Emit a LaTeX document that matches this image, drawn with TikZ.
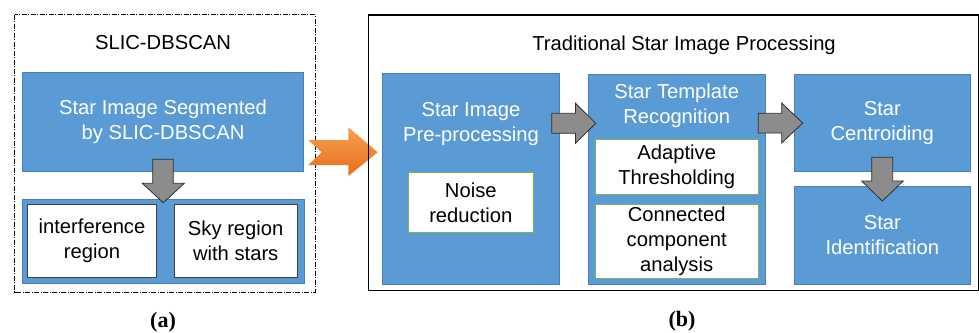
\documentclass[tikz,border=0pt]{standalone}
\usepackage{fontspec}
\setmainfont{Liberation Sans}
\newfontfamily\capfont{Liberation Serif}
\usetikzlibrary{shadings}
\definecolor{boxblue}{HTML}{5B9BD5}
\definecolor{boxedge}{HTML}{4A7FB5}
\definecolor{subgreen}{HTML}{7AB648}
\definecolor{arrgray}{HTML}{8C8C8C}
\definecolor{arredge}{HTML}{2E2E2E}
\definecolor{orangetop}{HTML}{F5A050}
\definecolor{orangebot}{HTML}{E86E1E}
\tikzset{
  txt/.style={font=\fontsize{20.2}{25}\selectfont, align=center, inner sep=0pt},
  bluebox/.style={draw=boxedge, line width=0.6pt, fill=boxblue, inner sep=0pt},
  whitebox/.style={draw=black!75, line width=1pt, fill=white, inner sep=0pt},
  greenbox/.style={draw=subgreen, line width=1pt, fill=white, inner sep=0pt},
  blockarrow/.style={draw=arredge, line width=0.8pt, fill=arrgray},
  caption/.style={font=\capfont\bfseries\fontsize{22}{24}\selectfont, inner sep=0pt},
}
\begin{document}
\begin{tikzpicture}[x=1pt, y=-1pt]
\useasboundingbox (0,0) rectangle (979,332);

% ---- (a) SLIC-DBSCAN ----
\draw[line width=0.7pt, dash pattern=on 5pt off 1.5pt on 1pt off 1.5pt]
  (14.7,14.7) rectangle (315,292);
\node[txt] (titleA) at (163,43) {SLIC-DBSCAN};
\node[bluebox, minimum width=280.6pt, minimum height=99pt] (seg) at (163,122.2) {};
\node[txt, text=white] (segtxt) at (seg.center) {Star Image Segmented\\by SLIC-DBSCAN};
\node[bluebox, minimum width=282pt, minimum height=84.3pt] (regions) at (163.7,241.2) {};
\node[whitebox, minimum width=129.4pt, minimum height=72.6pt] (interf) at (92,241) {};
\node[txt] (interftxt) at (interf.center) {interference\\region};
\node[whitebox, minimum width=123.3pt, minimum height=72.6pt] (sky) at (235.7,241) {};
\node[txt] (skytxt) at (sky.center) {Sky region\\with stars};
% down arrow from segmentation to regions
\draw[blockarrow] (152.7,159.3) -- (173.3,159.3) -- (173.3,183.3) -- (184.3,183.3)
  -- (163.3,202.7) -- (142.3,183.3) -- (152.7,183.3) -- cycle;
\node[caption] (capA) at (163,322) {(a)};

% ---- orange transition arrow ----
\shade[top color=orangetop, bottom color=orangebot]
  (308.3,140) -- (348.3,140) -- (348.3,127.3) -- (377.7,152.3) -- (348.3,176)
  -- (348.3,165) -- (308.3,165) -- (321.7,152.3) -- cycle;

% ---- (b) Traditional processing ----
\draw[line width=1.1pt] (368.7,15) rectangle (978.5,290.7);
\node[txt] (titleB) at (684,45) {Traditional Star Image Processing};

\node[bluebox, minimum width=176.6pt, minimum height=210.7pt] (pre) at (471,178.7) {};
\node[txt, text=white] (pretxt) at (471,124) {Star Image\\Pre-processing};
\node[greenbox, minimum width=125pt, minimum height=60pt] (noise) at (470.8,202.3) {};
\node[txt] (noisetxt) at (noise.center) {Noise\\reduction};

\node[bluebox, minimum width=176.7pt, minimum height=210pt] (tmpl) at (676.7,179) {};
\node[txt, text=white] (tmpltxt) at (676.7,106) {Star Template\\Recognition};
\node[greenbox, minimum width=163.3pt, minimum height=55pt] (adapt) at (676.7,166.8) {};
\node[txt] (adapttxt) at (adapt.center) {Adaptive\\Thresholding};
\node[greenbox, minimum width=163.3pt, minimum height=74pt] (conn) at (676.7,241.3) {};
\node[txt] (conntxt) at (conn.center) {Connected\\component\\analysis};

\node[bluebox, minimum width=176.7pt, minimum height=97.7pt] (cent) at (882.3,122.8) {};
\node[txt, text=white] (centtxt) at (cent.center) {Star\\Centroiding};
\node[bluebox, minimum width=176.7pt, minimum height=97.3pt] (ident) at (882.3,235.3) {};
\node[txt, text=white] (identtxt) at (ident.center) {Star\\Identification};

% block arrows between stages
\draw[blockarrow] (551.7,113.3) -- (575.5,113.3) -- (575.5,103.3) -- (595.7,123.3)
  -- (575.5,143.3) -- (575.5,133.3) -- (551.7,133.3) -- cycle;
\draw[blockarrow] (758.3,113.3) -- (781.7,113.3) -- (781.7,103) -- (802.7,123)
  -- (781.7,143) -- (781.7,133) -- (758.3,133) -- cycle;
\draw[blockarrow] (871.7,157.3) -- (892.7,157.3) -- (892.7,181) -- (903.3,181)
  -- (882.3,201) -- (861.7,181) -- (871.7,181) -- cycle;

\node[caption] (capB) at (682,321) {(b)};
\end{tikzpicture}
\end{document}
